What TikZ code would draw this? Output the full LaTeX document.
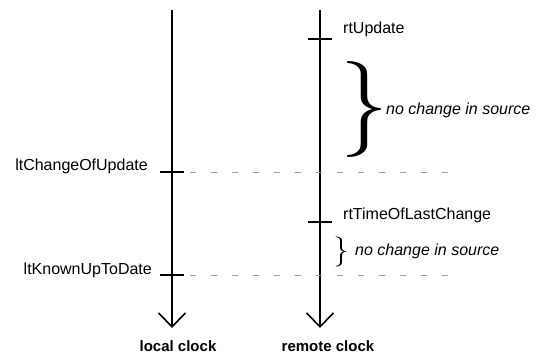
\documentclass[tikz,border=0pt]{standalone}
\usepackage{fontspec}
\setsansfont{Liberation Sans}
\newfontfamily\bracefont{Latin Modern Roman}
\usetikzlibrary{arrows.meta}
\begin{document}
\begin{tikzpicture}[x=1pt,y=-1pt,
  clockaxis/.style={line width=1.6pt, -{Straight Barb[length=14pt,width=27pt,line width=1.6pt]}},
  tickmark/.style={line width=1.6pt},
  guide/.style={gray!75, line width=0.8pt, dash pattern=on 6pt off 15pt, dash phase=-6pt},
  lbl/.style={font=\sffamily\fontsize{16}{19}\selectfont, inner sep=0pt},
  note/.style={font=\sffamily\itshape\fontsize{16}{19}\selectfont, inner sep=0pt},
  axislbl/.style={font=\sffamily\bfseries\fontsize{15}{18}\selectfont, inner sep=0pt}]
\useasboundingbox (0,0) rectangle (536,353);

% clock axes
\coordinate (ltop) at (172,10);
\coordinate (lbot) at (172,328);
\coordinate (rtop) at (320,10);
\coordinate (rbot) at (320,328);
\draw[clockaxis] (ltop) -- (lbot);
\draw[clockaxis] (rtop) -- (rbot);

% tick positions
\coordinate (lchg) at (172,172);
\coordinate (lknown) at (172,275);
\coordinate (rupd) at (320,39);
\coordinate (rlast) at (320,222);
\coordinate (chgend) at (450,172);
\coordinate (knownend) at (450,275);

% dashed guides from the local ticks
\draw[guide] (lchg) ++(12,0) -- (chgend);
\draw[guide] (lknown) ++(12,0) -- (knownend);

% ticks
\foreach \p in {lchg,lknown,rupd,rlast}
  \draw[tickmark] ([xshift=-12pt]\p) -- ([xshift=12pt]\p);

% tick labels
\node[lbl, anchor=base east] (tChg) at (148,170) {ltChangeOfUpdate};
\node[lbl, anchor=base east] (tKnown) at (152,274) {ltKnownUpToDate};
\node[lbl, anchor=base west] (tUpd) at (343,34) {rtUpdate};
\node[lbl, anchor=base west] (tLast) at (343,219) {rtTimeOfLastChange};

% braces with notes
\node[inner sep=0pt] (bigbrace) at (364,109)
  {\bracefont\fontsize{96}{96}\selectfont\}};
\node[note, anchor=base west] (bigNote) at (386,114) {no change in source};
\node[inner sep=0pt] (smallbrace) at (341,252)
  {\bracefont\fontsize{30}{30}\selectfont\}};
\node[note, anchor=base west] (smallNote) at (355,255) {no change in source};

% axis captions
\node[axislbl, anchor=base] (lname) at (178,351) {local clock};
\node[axislbl, anchor=base] (rname) at (328,351) {remote clock};
\end{tikzpicture}
\end{document}
